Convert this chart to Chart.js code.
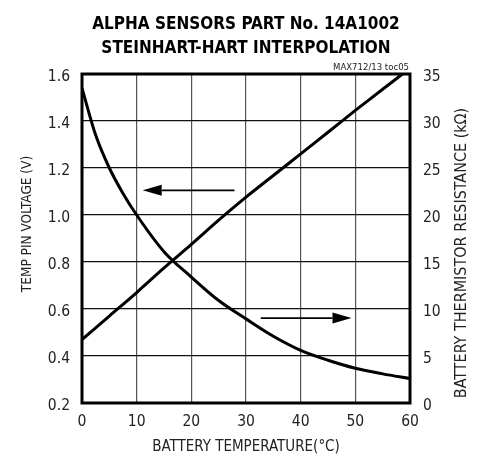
<!DOCTYPE html>
<html>
<head>
<meta charset="utf-8">
<script src="https://cdn.jsdelivr.net/npm/chart.js@4.4.1/dist/chart.umd.min.js"></script>
<style>
html, body { margin: 0; padding: 0; background: #fff; }
#wrap { width: 483px; height: 460px; }
</style>
</head>
<body>
<div id="wrap"><canvas id="chart" width="483" height="460"></canvas></div>
<script>
// chart data
const titleLines = ['ALPHA SENSORS PART No. 14A1002', 'STEINHART-HART INTERPOLATION'];
const noteText = 'MAX712/13 toc05';
const xTitle = 'BATTERY TEMPERATURE(\u00B0C)';
const leftTitle = 'TEMP PIN VOLTAGE (V)';
const rightTitle = 'BATTERY THERMISTOR RESISTANCE (k\u03A9)';

const xTicks = [0, 10, 20, 30, 40, 50, 60];
const voltTicks = [0.2, 0.4, 0.6, 0.8, 1.0, 1.2, 1.4, 1.6];
const resTicks = [0, 5, 10, 15, 20, 25, 30, 35];

// temp pin voltage (left axis)
const voltTemps = [0, 5, 10, 15, 20, 25, 30, 35, 40, 45, 50, 55, 60];
const voltage = [0.47, 0.57, 0.67, 0.775, 0.875, 0.978, 1.076, 1.168, 1.26, 1.352, 1.445, 1.535, 1.625];

// thermistor resistance (right axis)
const resTemps = [0, 2.5, 5, 7.5, 10, 15, 20, 25, 30, 35, 40, 45, 50, 55, 60];
const resistance = [33.5, 28.5, 25.0, 22.3, 20.0, 16.1, 13.4, 10.9, 8.95, 7.1, 5.6, 4.55, 3.7, 3.1, 2.6];

// arrows: [temp, value] start -> end, on the given axis
const arrows = [
    { axis: 'y', from: [27.9, 1.105], to: [11.1, 1.105] },
    { axis: 'y2', from: [32.7, 9.03], to: [49.3, 9.03] }
];

const FONT = '"Liberation Sans Narrow", "DejaVu Sans Condensed", "Roboto", sans-serif';
const INK = '#222';

const decor = {
    id: 'decor',
    afterDraw(chart) {
        const ctx = chart.ctx;
        const ca = chart.chartArea;
        const sx = chart.scales.x;

        ctx.save();
        // frame
        ctx.strokeStyle = '#000';
        ctx.lineWidth = 3;
        ctx.strokeRect(ca.left, ca.top, ca.right - ca.left, ca.bottom - ca.top);

        // arrows
        arrows.forEach(a => {
            const sy = chart.scales[a.axis];
            const x1 = sx.getPixelForValue(a.from[0]);
            const y1 = sy.getPixelForValue(a.from[1]);
            const x2 = sx.getPixelForValue(a.to[0]);
            const y2 = sy.getPixelForValue(a.to[1]);
            const dir = x2 > x1 ? 1 : -1;
            const headLen = 19;
            const headHalf = 5.5;
            ctx.strokeStyle = '#000';
            ctx.lineWidth = 1.6;
            ctx.beginPath();
            ctx.moveTo(x1, y1);
            ctx.lineTo(x2 - dir * headLen, y2);
            ctx.stroke();
            ctx.fillStyle = '#000';
            ctx.beginPath();
            ctx.moveTo(x2, y2);
            ctx.lineTo(x2 - dir * headLen, y2 - headHalf);
            ctx.lineTo(x2 - dir * headLen, y2 + headHalf);
            ctx.closePath();
            ctx.fill();
        });

        // titles
        const cx = (ca.left + ca.right) / 2;
        ctx.fillStyle = '#000';
        ctx.textAlign = 'center';
        ctx.textBaseline = 'alphabetic';
        ctx.font = 'bold 17px ' + FONT;
        ctx.fillText(titleLines[0], cx, 29);
        ctx.fillText(titleLines[1], cx, 53);

        ctx.fillStyle = INK;
        ctx.font = '9.5px ' + FONT;
        ctx.textAlign = 'right';
        ctx.fillText(noteText, ca.right - 1, 70);

        ctx.textAlign = 'center';
        ctx.textBaseline = 'middle';
        ctx.font = '15px ' + FONT;
        ctx.fillText(xTitle, cx, 447);

        ctx.save();
        ctx.font = '13.5px ' + FONT;
        ctx.translate(27, 224);
        ctx.rotate(-Math.PI / 2);
        ctx.fillText(leftTitle, 0, 0);
        ctx.restore();

        ctx.save();
        ctx.font = '16px ' + FONT;
        ctx.translate(462, 253);
        ctx.rotate(-Math.PI / 2);
        ctx.fillText(rightTitle, 0, 0);
        ctx.restore();

        ctx.restore();
    }
};

const tickFont = { family: FONT, size: 15.5 };

new Chart(document.getElementById('chart'), {
    type: 'line',
    data: {
        datasets: [
            {
                label: 'Voltage',
                data: voltTemps.map((t, i) => ({ x: t, y: voltage[i] })),
                yAxisID: 'y',
                borderColor: '#000',
                borderWidth: 3,
                pointRadius: 0,
                tension: 0.3,
                fill: false
            },
            {
                label: 'Resistance',
                data: resTemps.map((t, i) => ({ x: t, y: resistance[i] })),
                yAxisID: 'y2',
                borderColor: '#000',
                borderWidth: 3,
                pointRadius: 0,
                cubicInterpolationMode: 'monotone',
                fill: false
            }
        ]
    },
    options: {
        responsive: false,
        animation: false,
        devicePixelRatio: 1,
        layout: { padding: { top: 74, left: 0, right: 0, bottom: 0 } },
        plugins: {
            legend: { display: false },
            tooltip: { enabled: false },
            title: { display: false }
        },
        scales: {
            x: {
                type: 'linear',
                min: 0,
                max: 60,
                afterBuildTicks: s => { s.ticks = xTicks.map(v => ({ value: v })); },
                afterFit: s => { s.height = 57; },
                grid: { color: '#555', lineWidth: 1.2, drawTicks: false },
                border: { display: false },
                ticks: { color: INK, font: tickFont, padding: 10, maxRotation: 0 }
            },
            y: {
                position: 'left',
                min: 0.2,
                max: 1.6,
                afterBuildTicks: s => { s.ticks = voltTicks.map(v => ({ value: v })); },
                afterFit: s => { s.width = 82; },
                grid: { color: '#111', lineWidth: 1.2, drawTicks: false },
                border: { display: false },
                ticks: {
                    color: INK, font: tickFont, padding: 12, labelOffset: 3,
                    callback: v => v.toFixed(1)
                }
            },
            y2: {
                position: 'right',
                min: 0,
                max: 35,
                afterBuildTicks: s => { s.ticks = resTicks.map(v => ({ value: v })); },
                afterFit: s => { s.width = 73; },
                grid: { display: false, drawTicks: false },
                border: { display: false },
                ticks: { color: INK, font: tickFont, padding: 13, labelOffset: 3 }
            }
        }
    },
    plugins: [decor]
});
</script>
</body>
</html>
